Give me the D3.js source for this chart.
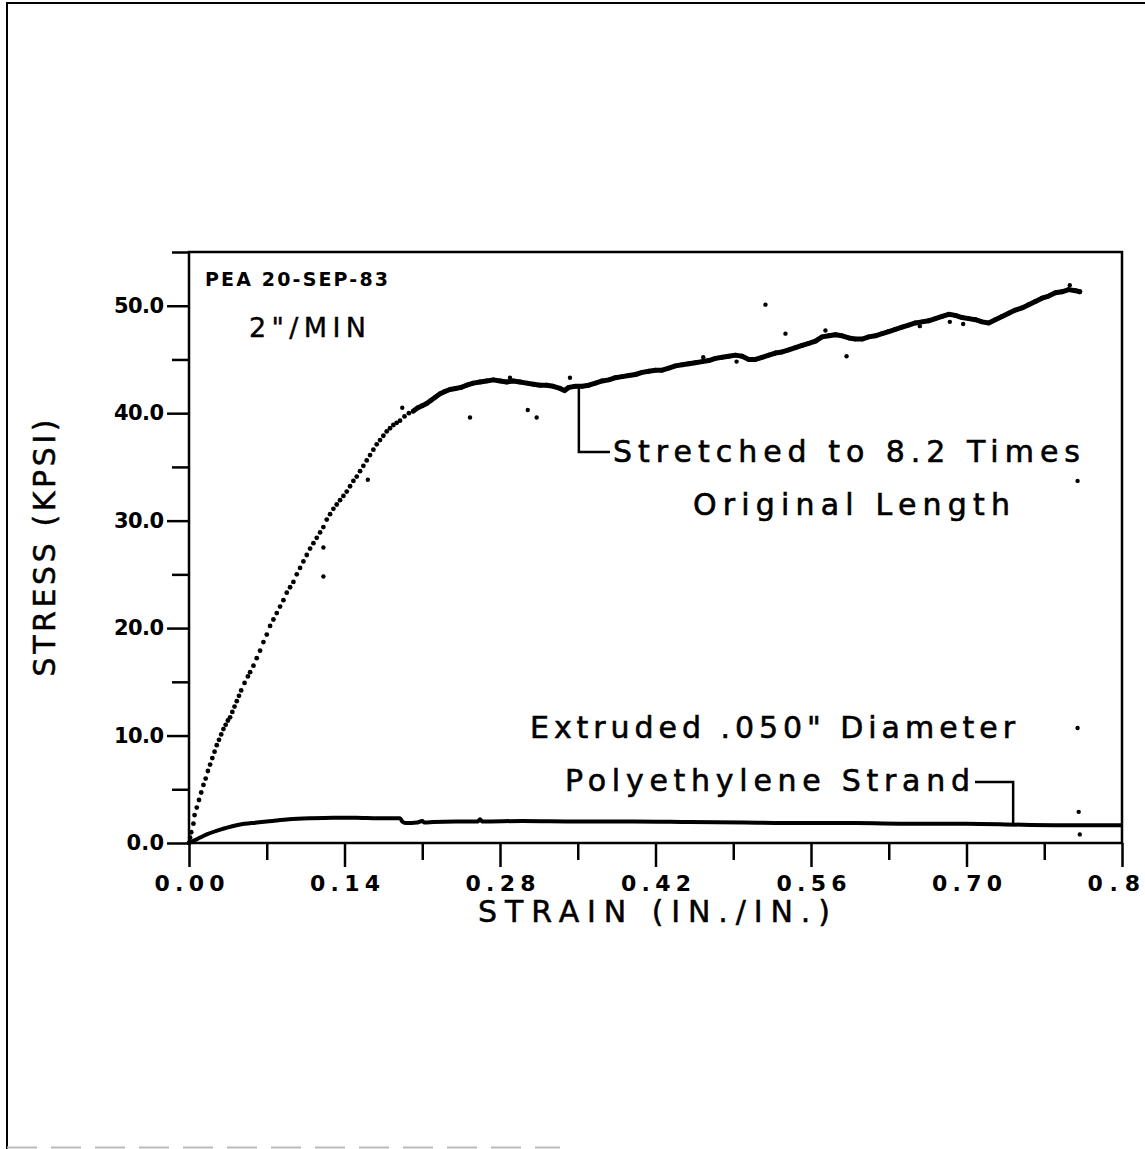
<!DOCTYPE html>
<html>
<head>
<meta charset="utf-8">
<script src="https://cdn.jsdelivr.net/npm/d3@7"></script>
<style>
  body { margin: 0; background: #fff; }
  svg { display: block; }
</style>
</head>
<body>
<svg id="chart"></svg>
<script>
// PEA sample (strain in./in., stress kpsi)
const strainPEA = [0.000, 0.001, 0.002, 0.004, 0.005, 0.007, 0.009, 0.011, 0.013, 0.015, 0.017, 0.019, 0.021, 0.023, 0.025, 0.027, 0.029, 0.031, 0.033, 0.035, 0.037, 0.039, 0.041, 0.043, 0.045, 0.047, 0.050, 0.053, 0.055, 0.058, 0.061, 0.064, 0.067, 0.070, 0.073, 0.076, 0.079, 0.082, 0.085, 0.088, 0.091, 0.094, 0.097, 0.100, 0.103, 0.106, 0.109, 0.112, 0.115, 0.118, 0.121, 0.124, 0.127, 0.130, 0.133, 0.136, 0.139, 0.142, 0.145, 0.148, 0.151, 0.154, 0.157, 0.160, 0.163, 0.166, 0.169, 0.172, 0.175, 0.178, 0.181, 0.184, 0.187, 0.190, 0.194, 0.198, 0.202, 0.206, 0.210, 0.214, 0.218, 0.222, 0.226, 0.230, 0.235, 0.240, 0.245, 0.250, 0.256, 0.262, 0.268, 0.274, 0.280, 0.286, 0.292, 0.298, 0.304, 0.310, 0.316, 0.322, 0.328, 0.334, 0.338, 0.342, 0.348, 0.354, 0.360, 0.366, 0.372, 0.378, 0.384, 0.390, 0.396, 0.402, 0.408, 0.414, 0.420, 0.426, 0.432, 0.438, 0.444, 0.450, 0.456, 0.462, 0.468, 0.474, 0.480, 0.486, 0.492, 0.498, 0.504, 0.510, 0.516, 0.522, 0.528, 0.534, 0.540, 0.546, 0.552, 0.558, 0.564, 0.570, 0.576, 0.582, 0.588, 0.594, 0.600, 0.606, 0.612, 0.618, 0.624, 0.630, 0.636, 0.642, 0.648, 0.654, 0.660, 0.666, 0.672, 0.678, 0.684, 0.690, 0.696, 0.702, 0.708, 0.714, 0.720, 0.726, 0.732, 0.738, 0.744, 0.750, 0.756, 0.762, 0.768, 0.774, 0.780, 0.786, 0.792, 0.798, 0.802];
const stressPEA = [0.0, 0.5, 1.0, 1.8, 2.6, 3.3, 4.0, 4.7, 5.4, 6.0, 6.7, 7.3, 7.9, 8.5, 9.1, 9.6, 10.1, 10.6, 11.0, 11.4, 11.7, 12.2, 12.7, 13.2, 13.7, 14.2, 14.9, 15.5, 15.9, 16.5, 17.2, 17.9, 18.7, 19.4, 20.2, 20.8, 21.4, 22.0, 22.6, 23.3, 23.8, 24.3, 25.0, 25.6, 26.2, 26.8, 27.4, 27.9, 28.4, 28.9, 29.4, 30.1, 30.6, 31.1, 31.5, 31.9, 32.3, 32.7, 33.2, 33.7, 34.1, 34.6, 35.1, 35.6, 36.1, 36.6, 37.1, 37.5, 37.9, 38.3, 38.6, 38.9, 39.1, 39.3, 39.7, 40.0, 40.2, 40.5, 40.7, 40.9, 41.2, 41.5, 41.8, 42.0, 42.2, 42.3, 42.4, 42.6, 42.8, 42.9, 43.0, 43.1, 43.0, 42.9, 43.0, 42.9, 42.8, 42.7, 42.6, 42.6, 42.5, 42.3, 42.1, 42.4, 42.5, 42.5, 42.6, 42.8, 43.0, 43.1, 43.3, 43.4, 43.5, 43.6, 43.8, 43.9, 44.0, 44.0, 44.2, 44.4, 44.5, 44.6, 44.7, 44.8, 44.9, 45.1, 45.2, 45.3, 45.4, 45.3, 45.0, 45.0, 45.2, 45.4, 45.6, 45.7, 45.9, 46.1, 46.3, 46.5, 46.7, 47.1, 47.2, 47.3, 47.2, 47.0, 46.9, 46.9, 47.1, 47.2, 47.4, 47.6, 47.8, 48.0, 48.2, 48.4, 48.5, 48.6, 48.8, 49.0, 49.2, 49.1, 48.9, 48.8, 48.7, 48.5, 48.4, 48.7, 49.0, 49.3, 49.6, 49.8, 50.1, 50.4, 50.7, 50.9, 51.2, 51.3, 51.5, 51.4, 51.3];

// stray points off the PEA trace
const strainStray = [0.121, 0.121, 0.161, 0.192, 0.253, 0.289, 0.305, 0.313, 0.343, 0.463, 0.493, 0.519, 0.537, 0.573, 0.592, 0.658, 0.685, 0.697, 0.793, 0.800, 0.800, 0.801, 0.802];
const stressStray = [24.8, 27.5, 33.8, 40.5, 39.6, 43.3, 40.3, 39.6, 43.3, 45.2, 44.8, 50.1, 47.4, 47.7, 45.3, 48.1, 48.5, 48.3, 51.9, 33.7, 10.7, 2.9, 0.8];

// extruded polyethylene strand
const strainPE = [0, 0.008, 0.016, 0.030, 0.045, 0.061, 0.075, 0.090, 0.110, 0.130, 0.150, 0.170, 0.190, 0.192, 0.196, 0.205, 0.210, 0.212, 0.220, 0.240, 0.260, 0.262, 0.264, 0.300, 0.350, 0.400, 0.450, 0.500, 0.550, 0.600, 0.650, 0.700, 0.750, 0.800, 0.840];
const stressPE = [0, 0.4, 0.8, 1.3, 1.7, 1.9, 2.05, 2.2, 2.3, 2.35, 2.35, 2.3, 2.3, 2.0, 1.85, 1.9, 2.05, 1.9, 1.95, 2.0, 2.0, 2.2, 2.0, 2.05, 2.0, 2.0, 1.95, 1.9, 1.85, 1.85, 1.8, 1.8, 1.7, 1.65, 1.65];

const xMajor = [0, 0.14, 0.28, 0.42, 0.56, 0.70, 0.84];
const xMinor = [0.07, 0.21, 0.35, 0.49, 0.63, 0.77];
// last label is cut at the sheet edge in the original, only "0.8" shows
const xLabels = ["0.00", "0.14", "0.28", "0.42", "0.56", "0.70", "0.8"];
const yMajor = [0, 10, 20, 30, 40, 50];
const yMinor = [5, 15, 25, 35, 45, 55];
const yLabels = ["0.0", "10.0", "20.0", "30.0", "40.0", "50.0"];

const W = 1145, H = 1149;
const svg = d3.select("#chart").attr("width", W).attr("height", H);
const sans = "'DejaVu Sans', sans-serif";

// page border (scanned sheet edge)
svg.append("path")
    .attr("d", `M7,${H} V3 H${W}`)
    .attr("fill", "none").attr("stroke", "#000").attr("stroke-width", 2);
svg.append("line")
    .attr("x1", 7).attr("x2", 560).attr("y1", H - 1.5).attr("y2", H - 1.5)
    .attr("stroke", "#bbb").attr("stroke-width", 2).attr("stroke-dasharray", "30 14");

const x = d3.scaleLinear().domain([0, 0.84]).range([189, 1122]);
const y = d3.scaleLinear().domain([0, 55]).range([843, 252]);

// frame
svg.append("rect")
    .attr("x", x(0)).attr("y", y(55))
    .attr("width", x(0.84) - x(0)).attr("height", y(0) - y(55))
    .attr("fill", "none").attr("stroke", "#000").attr("stroke-width", 2.5);

function styleAxis(g) {
    g.select(".domain").remove();
    g.selectAll("line").attr("stroke", "#000").attr("stroke-width", 2.5);
    g.selectAll("text")
        .attr("fill", "#000")
        .attr("font-family", sans)
        .attr("font-weight", "bold");
}

// x axis
svg.append("g")
    .attr("transform", `translate(0,${y(0)})`)
    .call(d3.axisBottom(x).tickValues(xMinor).tickSize(17).tickFormat(""))
    .call(styleAxis);
svg.append("g")
    .attr("transform", `translate(0,${y(0)})`)
    .call(d3.axisBottom(x).tickValues(xMajor).tickSize(24).tickPadding(8)
        .tickFormat((d, i) => xLabels[i]))
    .call(styleAxis)
    .call(g => g.selectAll("text")
        .attr("font-size", 22)
        .attr("textLength", (d, i) => xLabels[i].length * 17.5)
        .attr("lengthAdjust", "spacing")
        .attr("dx", (d, i) => (xLabels[i].length - 4) * 8.75));

// y axis
svg.append("g")
    .attr("transform", `translate(${x(0)},0)`)
    .call(d3.axisLeft(y).tickValues(yMinor).tickSize(17).tickFormat(""))
    .call(styleAxis);
svg.append("g")
    .attr("transform", `translate(${x(0)},0)`)
    .call(d3.axisLeft(y).tickValues(yMajor).tickSize(22).tickPadding(3)
        .tickFormat((d, i) => yLabels[i]))
    .call(styleAxis)
    .call(g => g.selectAll("text")
        .attr("font-size", 21)
        .attr("textLength", (d, i) => yLabels[i].length * 12.5)
        .attr("lengthAdjust", "spacing"));

// axis titles
const title = svg.append("g")
    .attr("font-family", sans).attr("font-size", 30)
    .attr("stroke", "#000").attr("stroke-width", 0.5);
title.append("text")
    .attr("x", 478).attr("y", 922)
    .attr("textLength", 352).attr("lengthAdjust", "spacing")
    .text("STRAIN (IN./IN.)");
title.append("text")
    .attr("transform", "translate(55,548) rotate(-90)")
    .attr("text-anchor", "middle")
    .attr("textLength", 257).attr("lengthAdjust", "spacing")
    .text("STRESS (KPSI)");

// PEA trace: dense part drawn as a heavy line, every sample as a dot
const pea = strainPEA.map((s, i) => [s, stressPEA[i]]);
const line = d3.line().x(d => x(d[0])).y(d => y(d[1]));
svg.append("path")
    .datum(pea.filter(d => d[0] >= 0.2))
    .attr("d", line)
    .attr("fill", "none").attr("stroke", "#000")
    .attr("stroke-width", 5).attr("stroke-linejoin", "round").attr("stroke-linecap", "round");
svg.append("g").selectAll("circle")
    .data(pea)
    .join("circle")
    .attr("cx", d => x(d[0])).attr("cy", d => y(d[1]))
    .attr("r", 2.4).attr("fill", "#000");
svg.append("g").selectAll("circle")
    .data(strainStray.map((s, i) => [s, stressStray[i]]))
    .join("circle")
    .attr("cx", d => x(d[0])).attr("cy", d => y(d[1]))
    .attr("r", 2.2).attr("fill", "#000");

// extruded strand
svg.append("path")
    .datum(strainPE.map((s, i) => [s, stressPE[i]]))
    .attr("d", d3.line().x(d => x(d[0])).y(d => y(d[1])).curve(d3.curveMonotoneX))
    .attr("fill", "none").attr("stroke", "#000")
    .attr("stroke-width", 4).attr("stroke-linejoin", "round");

// header notes
svg.append("text")
    .attr("x", 205).attr("y", 286)
    .attr("font-family", sans).attr("font-weight", "bold").attr("font-size", 19)
    .attr("textLength", 183).attr("lengthAdjust", "spacing")
    .text("PEA 20-SEP-83");
svg.append("text")
    .attr("x", 249).attr("y", 337)
    .attr("font-family", sans).attr("font-size", 27)
    .attr("stroke", "#000").attr("stroke-width", 0.4)
    .attr("textLength", 117).attr("lengthAdjust", "spacing")
    .text("2\"/MIN");

// callouts
const ann = svg.append("g").attr("font-family", sans).attr("font-size", 30)
    .attr("stroke", "#000").attr("stroke-width", 0.6);
ann.append("path")
    .attr("d", `M${x(0.351)},${y(42.4)} V452 H610`)
    .attr("fill", "none").attr("stroke-width", 2.5);
ann.append("text").attr("x", 613).attr("y", 462)
    .attr("textLength", 467).attr("lengthAdjust", "spacing")
    .text("Stretched to 8.2 Times");
ann.append("text").attr("x", 693).attr("y", 515)
    .attr("textLength", 317).attr("lengthAdjust", "spacing")
    .text("Original Length");
ann.append("text").attr("x", 530).attr("y", 738)
    .attr("textLength", 485).attr("lengthAdjust", "spacing")
    .text("Extruded .050\" Diameter");
ann.append("text").attr("x", 565).attr("y", 791)
    .attr("textLength", 405).attr("lengthAdjust", "spacing")
    .text("Polyethylene Strand");
ann.append("path")
    .attr("d", `M975,782 H${x(0.742)} V${y(1.7)}`)
    .attr("fill", "none").attr("stroke-width", 2.5);
</script>
</body>
</html>
